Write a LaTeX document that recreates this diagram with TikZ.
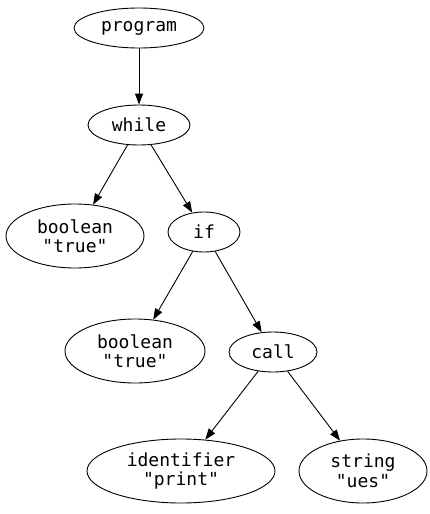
\documentclass[tikz,border=0pt]{standalone}
\usepackage{fontspec}
\setmonofont{DejaVu Sans Mono}
\usetikzlibrary{shapes.geometric,arrows.meta}
\begin{document}
\begin{tikzpicture}[x=1pt,y=-1pt,
  nd/.style={draw,ellipse,line width=0.9pt,inner sep=0pt,align=center,
    font=\fontsize{18}{19.5}\selectfont\ttfamily},
  one/.style={nd,minimum height=40pt},
  two/.style={nd,minimum height=64pt},
  edge/.style={line width=0.9pt,-{Triangle[length=11pt,width=8pt]}}]
\useasboundingbox (0,0) rectangle (429,514);
\node[one,minimum width=130pt] (prog) at (139,28) {program};
\node[one,minimum width=102pt] (while) at (139,125) {while};
\node[two,minimum width=138pt] (b1) at (75,236) {boolean\\"true"};
\node[one,minimum width=72pt] (if) at (204,232) {if};
\node[two,minimum width=140pt] (b2) at (135,351) {boolean\\"true"};
\node[one,minimum width=88pt] (call) at (273,352) {call};
\node[two,minimum width=188pt] (id) at (181,471) {identifier\\"print"};
\node[two,minimum width=128pt] (str) at (363,471) {string\\"ues"};
\draw[edge] (prog) -- (while);
\draw[edge] (while) -- (b1);
\draw[edge] (while) -- (if);
\draw[edge] (if) -- (b2);
\draw[edge] (if) -- (call);
\draw[edge] (call) -- (id);
\draw[edge] (call) -- (str);
\end{tikzpicture}
\end{document}
